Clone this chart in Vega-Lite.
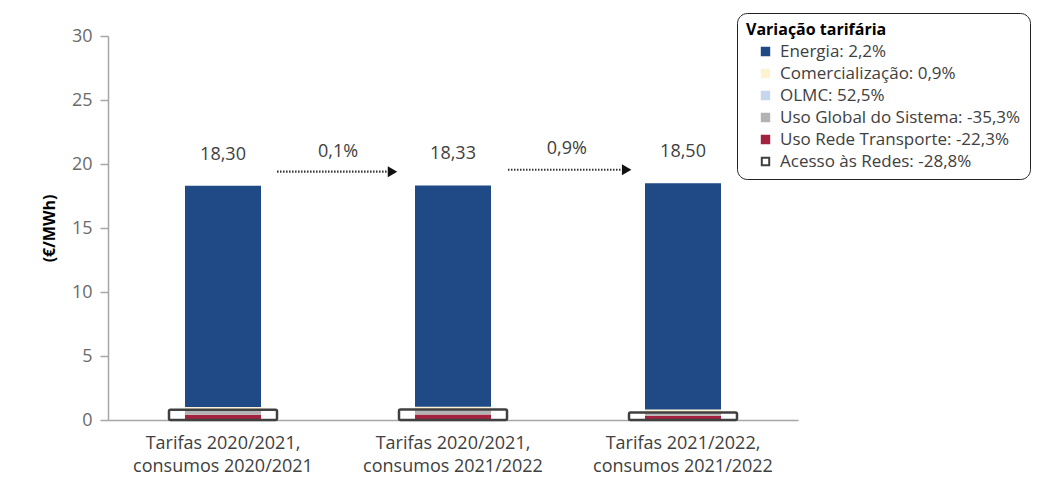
{
  "$schema": "https://vega.github.io/schema/vega-lite/v6.json",
  "width": 690,
  "height": 384,
  "autosize": {"type": "none"},
  "padding": {"left": 108, "top": 36, "right": 256, "bottom": 62},
  "background": "white",
  "config": {
    "view": {"stroke": null},
    "font": "Open Sans",
    "locale": {"number": {"decimal": ",", "thousands": ".", "grouping": [3], "currency": ["", " €"]}}
  },
  "datasets": {
    "comp": [
      {"cat": "Tarifas 2020/2021, consumos 2020/2021", "comp": "Uso Rede Transporte: -22,3%", "value": 0.41, "ord": 1},
      {"cat": "Tarifas 2020/2021, consumos 2020/2021", "comp": "Uso Global do Sistema: -35,3%", "value": 0.39, "ord": 2},
      {"cat": "Tarifas 2020/2021, consumos 2020/2021", "comp": "OLMC: 52,5%", "value": 0.02, "ord": 3},
      {"cat": "Tarifas 2020/2021, consumos 2020/2021", "comp": "Comercialização: 0,9%", "value": 0.2, "ord": 4},
      {"cat": "Tarifas 2020/2021, consumos 2020/2021", "comp": "Energia: 2,2%", "value": 17.28, "ord": 5},
      {"cat": "Tarifas 2020/2021, consumos 2021/2022", "comp": "Uso Rede Transporte: -22,3%", "value": 0.42, "ord": 1},
      {"cat": "Tarifas 2020/2021, consumos 2021/2022", "comp": "Uso Global do Sistema: -35,3%", "value": 0.4, "ord": 2},
      {"cat": "Tarifas 2020/2021, consumos 2021/2022", "comp": "OLMC: 52,5%", "value": 0.02, "ord": 3},
      {"cat": "Tarifas 2020/2021, consumos 2021/2022", "comp": "Comercialização: 0,9%", "value": 0.2, "ord": 4},
      {"cat": "Tarifas 2020/2021, consumos 2021/2022", "comp": "Energia: 2,2%", "value": 17.29, "ord": 5},
      {"cat": "Tarifas 2021/2022, consumos 2021/2022", "comp": "Uso Rede Transporte: -22,3%", "value": 0.33, "ord": 1},
      {"cat": "Tarifas 2021/2022, consumos 2021/2022", "comp": "Uso Global do Sistema: -35,3%", "value": 0.26, "ord": 2},
      {"cat": "Tarifas 2021/2022, consumos 2021/2022", "comp": "OLMC: 52,5%", "value": 0.03, "ord": 3},
      {"cat": "Tarifas 2021/2022, consumos 2021/2022", "comp": "Comercialização: 0,9%", "value": 0.2, "ord": 4},
      {"cat": "Tarifas 2021/2022, consumos 2021/2022", "comp": "Energia: 2,2%", "value": 17.68, "ord": 5}
    ],
    "acesso": [
      {"cat": "Tarifas 2020/2021, consumos 2020/2021", "comp": "Acesso às Redes: -28,8%", "value": 0.8},
      {"cat": "Tarifas 2020/2021, consumos 2021/2022", "comp": "Acesso às Redes: -28,8%", "value": 0.82},
      {"cat": "Tarifas 2021/2022, consumos 2021/2022", "comp": "Acesso às Redes: -28,8%", "value": 0.59}
    ],
    "totals": [
      {"cat": "Tarifas 2020/2021, consumos 2020/2021", "total": 18.3},
      {"cat": "Tarifas 2020/2021, consumos 2021/2022", "total": 18.33},
      {"cat": "Tarifas 2021/2022, consumos 2021/2022", "total": 18.5}
    ],
    "arrows": [
      {"xs": 0.735, "xe": 1.215, "xt": 1.237, "y": 19.4, "lx": 1.0, "ly": 20.9, "label": "0,1%"},
      {"xs": 1.739, "xe": 2.232, "xt": 2.255, "y": 19.55, "lx": 1.995, "ly": 21.2, "label": "0,9%"}
    ]
  },
  "layer": [
    {
      "encoding": {
        "x": {
          "field": "cat",
          "type": "nominal",
          "sort": null,
          "scale": {"paddingInner": 0, "paddingOuter": 0},
          "axis": {
            "title": null,
            "labelAngle": 0,
            "ticks": false,
            "domainColor": "#a6a6a6",
            "domainWidth": 1.5,
            "labelFontSize": 18,
            "labelColor": "#404040",
            "labelPadding": 14,
            "labelLineHeight": 23,
            "labelLimit": 300,
            "labelExpr": "[slice(datum.label, 0, indexof(datum.label, ',') + 1), slice(datum.label, indexof(datum.label, ',') + 2)]"
          }
        }
      },
      "layer": [
        {
          "data": {"name": "comp"},
          "mark": {"type": "bar", "size": 76},
          "encoding": {
            "y": {
              "field": "value",
              "type": "quantitative",
              "stack": "zero",
              "title": "(€/MWh)",
              "scale": {"domain": [0, 30]},
              "axis": {
                "title": "(€/MWh)",
                "values": [0, 5, 10, 15, 20, 25, 30],
                "grid": false,
                "domainColor": "#a6a6a6",
                "domainWidth": 1.5,
                "tickColor": "#a6a6a6",
                "tickWidth": 1.5,
                "tickSize": 8,
                "labelPadding": 8,
                "labelFontSize": 18,
                "labelColor": "#6b6b6b",
                "titleFontSize": 16,
                "titleFontWeight": "bold",
                "titleColor": "#000000",
                "titlePadding": 14
              }
            },
            "fill": {
              "field": "comp",
              "type": "nominal",
              "scale": {
                "domain": ["Energia: 2,2%", "Comercialização: 0,9%", "OLMC: 52,5%", "Uso Global do Sistema: -35,3%", "Uso Rede Transporte: -22,3%", "Acesso às Redes: -28,8%"],
                "range": ["#1f4a85", "#fdf2d2", "#c6d6ec", "#b3b3b3", "#a3223f", "#ffffff"]
              },
              "legend": {
                "title": "Variação tarifária",
                "orient": "none",
                "legendX": 629,
                "legendY": -23,
                "strokeColor": "#222222",
                "cornerRadius": 10,
                "fillColor": "white",
                "padding": 9,
                "titleFontSize": 16,
                "titleFontWeight": "bold",
                "titleColor": "#000000",
                "titlePadding": 5,
                "labelFontSize": 17,
                "labelColor": "#404040",
                "labelLimit": 400,
                "labelOffset": 6,
                "symbolType": "square",
                "symbolSize": 55,
                "symbolStrokeWidth": 2,
                "symbolOffset": 11,
                "rowPadding": 4
              }
            },
            "order": {"field": "ord", "type": "quantitative"}
          }
        },
        {
          "data": {"name": "acesso"},
          "mark": {"type": "bar", "size": 108, "fillOpacity": 0, "strokeWidth": 2.5, "cornerRadius": 1.5},
          "encoding": {
            "y": {"field": "value", "type": "quantitative", "stack": null, "title": "(€/MWh)"},
            "stroke": {
              "field": "comp",
              "type": "nominal",
              "scale": {
                "domain": ["Energia: 2,2%", "Comercialização: 0,9%", "OLMC: 52,5%", "Uso Global do Sistema: -35,3%", "Uso Rede Transporte: -22,3%", "Acesso às Redes: -28,8%"],
                "range": ["#1f4a85", "#fdf2d2", "#c6d6ec", "#b3b3b3", "#a3223f", "#404040"]
              },
              "legend": {
                "title": "Variação tarifária",
                "orient": "none",
                "legendX": 629,
                "legendY": -23,
                "strokeColor": "#222222",
                "cornerRadius": 10,
                "fillColor": "white",
                "padding": 9,
                "titleFontSize": 16,
                "titleFontWeight": "bold",
                "titleColor": "#000000",
                "titlePadding": 5,
                "labelFontSize": 17,
                "labelColor": "#404040",
                "labelLimit": 400,
                "labelOffset": 6,
                "symbolType": "square",
                "symbolSize": 55,
                "symbolStrokeWidth": 2,
                "symbolOffset": 11,
                "rowPadding": 4
              }
            }
          }
        },
        {
          "data": {"name": "totals"},
          "mark": {"type": "text", "dy": -31, "fontSize": 18, "color": "#404040", "baseline": "middle"},
          "encoding": {
            "y": {"field": "total", "type": "quantitative", "title": "(€/MWh)"},
            "text": {"field": "total", "type": "quantitative", "format": ".2f"}
          }
        }
      ]
    },
    {
      "data": {"name": "arrows"},
      "layer": [
        {
          "mark": {"type": "rule", "strokeDash": [1.5, 1.5], "strokeWidth": 2.2, "color": "#333333"},
          "encoding": {
            "x": {"field": "xs", "type": "quantitative", "scale": {"domain": [0, 3], "nice": false, "zero": false}, "axis": null},
            "x2": {"field": "xe"},
            "y": {"field": "y", "type": "quantitative", "title": "(€/MWh)"}
          }
        },
        {
          "mark": {"type": "point", "shape": "triangle-right", "filled": true, "size": 120, "color": "#111111", "opacity": 1},
          "encoding": {
            "x": {"field": "xt", "type": "quantitative", "scale": {"domain": [0, 3], "nice": false, "zero": false}, "axis": null},
            "y": {"field": "y", "type": "quantitative", "title": "(€/MWh)"}
          }
        },
        {
          "mark": {"type": "text", "fontSize": 18, "color": "#404040", "baseline": "middle"},
          "encoding": {
            "x": {"field": "lx", "type": "quantitative", "scale": {"domain": [0, 3], "nice": false, "zero": false}, "axis": null},
            "y": {"field": "ly", "type": "quantitative", "title": "(€/MWh)"},
            "text": {"field": "label"}
          }
        }
      ]
    }
  ],
  "resolve": {"scale": {"x": "independent"}}
}
